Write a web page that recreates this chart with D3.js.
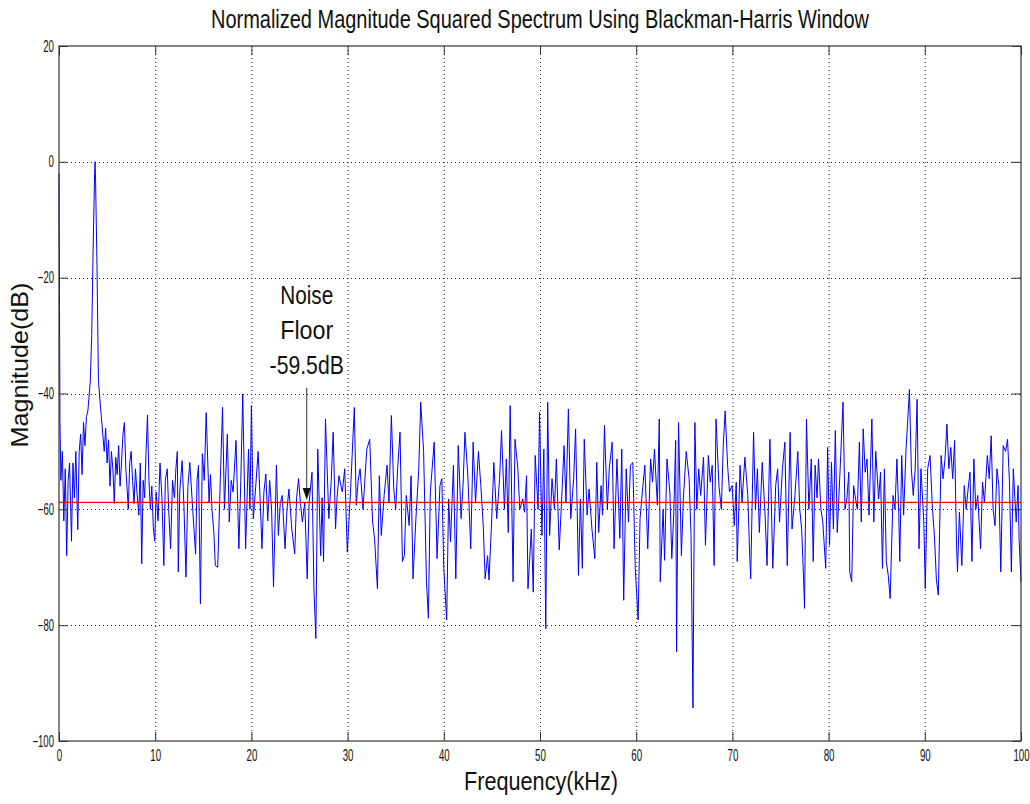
<!DOCTYPE html>
<html>
<head>
<meta charset="utf-8">
<script src="https://cdn.jsdelivr.net/npm/d3@7"></script>
<style>
  body { margin: 0; background: #fff; }
  text { font-family: "Liberation Sans", Arial, sans-serif; fill: #111; }
</style>
</head>
<body>
<div class="chart"></div>
<script>
var svgWidth = 1030;
var svgHeight = 804;

var margin = { top: 46, right: 9, bottom: 63, left: 59 };
var width = svgWidth - margin.left - margin.right;
var height = svgHeight - margin.top - margin.bottom;

// spectrum (kHz, dB)
var freqKHz = [
  0, 0.1, 0.2, 0.35, 0.5, 0.65, 0.8, 0.95, 1.1, 1.3, 1.45, 1.6, 1.75, 1.95, 2.1, 2.25, 2.4, 2.55, 2.7, 2.85,
  3.0, 3.1, 3.25, 3.4, 3.55, 3.7, 3.75, 3.8, 3.95, 4.1, 4.25, 4.4, 4.55, 4.7, 4.85, 5.0, 5.15, 5.3, 5.45, 5.6,
  5.75, 5.9, 6.05, 6.2, 6.35, 6.5, 6.65, 6.8, 6.95, 7.1, 7.2, 7.35, 7.5, 7.65, 7.8, 7.95, 8.1, 8.3, 8.45, 8.6,
  8.75, 8.9, 9.05, 9.2, 9.35, 9.5, 9.65, 9.8, 9.95, 10.1, 10.3, 10.5, 10.7, 10.9, 11.05, 11.25, 11.4, 11.6, 11.8, 12.0,
  12.15, 12.3, 12.4, 12.55, 12.8, 13.0, 13.2, 13.4, 13.6, 13.9, 14.2, 14.35, 14.5, 14.7, 14.9, 15.1, 15.3, 15.6, 15.75, 15.9,
  16.1, 16.25, 16.5, 16.8, 17.0, 17.2, 17.5, 17.7, 17.9, 18.1, 18.4, 18.7, 18.9, 19.1, 19.4, 19.7, 19.85, 20.0, 20.2, 20.45,
  20.7, 20.9, 21.1, 21.3, 21.5, 21.7, 21.9, 22.1, 22.3, 22.6, 22.8, 23.0, 23.2, 23.5, 23.7, 23.9, 24.2, 24.5, 24.7, 24.9,
  25.1, 25.3, 25.55, 25.8, 26.0, 26.3, 26.5, 26.7, 26.9, 27.2, 27.35, 27.5, 27.7, 28.05, 28.3, 28.5, 28.75, 28.9, 29.1, 29.45,
  29.7, 29.97, 30.3, 30.7, 30.9, 31.1, 31.3, 31.6, 32.0, 32.3, 32.6, 32.8, 33.1, 33.3, 33.5, 33.8, 34.1, 34.3, 34.55, 34.8,
  35.0, 35.2, 35.45, 35.7, 35.9, 36.1, 36.4, 36.6, 36.8, 37.1, 37.4, 37.6, 37.9, 38.2, 38.4, 38.6, 39.0, 39.3, 39.6, 39.8,
  40.0, 40.3, 40.5, 40.7, 41.0, 41.25, 41.5, 41.8, 42.0, 42.2, 42.5, 42.8, 43.05, 43.3, 43.6, 43.85, 44.1, 44.3, 44.55, 44.7,
  45.0, 45.2, 45.5, 45.8, 46.0, 46.3, 46.5, 46.7, 46.9, 47.2, 47.4, 47.7, 47.9, 48.2, 48.4, 48.6, 48.75, 49.1, 49.3, 49.5,
  49.8, 49.95, 50.2, 50.4, 50.6, 50.8, 51.0, 51.25, 51.5, 51.7, 52.0, 52.3, 52.5, 52.7, 52.95, 53.2, 53.5, 53.7, 54.0, 54.2,
  54.4, 54.6, 54.9, 55.1, 55.4, 55.7, 55.9, 56.1, 56.35, 56.5, 56.7, 57.0, 57.2, 57.5, 57.7, 58.0, 58.3, 58.5, 58.7, 58.96,
  59.2, 59.4, 59.65, 59.9, 60.2, 60.4, 60.7, 60.9, 61.2, 61.5, 61.7, 61.9, 62.2, 62.4, 62.5, 62.8, 62.95, 63.2, 63.5, 63.7,
  63.9, 64.1, 64.2, 64.4, 64.7, 64.9, 65.2, 65.5, 65.7, 65.9, 66.1, 66.3, 66.5, 66.7, 67.0, 67.2, 67.5, 67.7, 67.9, 68.1,
  68.3, 68.6, 68.85, 69.05, 69.25, 69.5, 69.7, 69.97, 70.2, 70.4, 70.5, 70.8, 71.0, 71.3, 71.6, 71.8, 71.9, 72.2, 72.4, 72.6,
  72.8, 73.1, 73.4, 73.6, 73.9, 74.1, 74.2, 74.5, 74.7, 74.9, 75.2, 75.45, 75.7, 76.0, 76.2, 76.5, 76.8, 77.0, 77.2, 77.4,
  77.5, 77.7, 77.95, 78.2, 78.4, 78.6, 78.8, 78.95, 79.2, 79.4, 79.7, 79.9, 80.1, 80.3, 80.5, 80.7, 80.9, 81.2, 81.5, 81.7,
  81.9, 82.1, 82.2, 82.4, 82.6, 82.8, 82.99, 83.2, 83.4, 83.6, 83.8, 84.0, 84.2, 84.5, 84.7, 84.9, 85.2, 85.4, 85.6, 85.8,
  86.0, 86.2, 86.4, 86.7, 86.9, 87.1, 87.3, 87.4, 87.6, 87.8, 88.05, 88.2, 88.4, 88.6, 88.8, 89.0, 89.2, 89.4, 89.6, 89.9,
  90.05, 90.3, 90.55, 90.8, 91.0, 91.2, 91.4, 91.7, 91.9, 92.1, 92.3, 92.5, 92.7, 92.9, 93.1, 93.3, 93.4, 93.6, 93.85, 94.1,
  94.3, 94.5, 94.7, 94.9, 95.1, 95.3, 95.5, 95.8, 96.0, 96.2, 96.5, 96.7, 96.9, 97.1, 97.3, 97.5, 97.7, 97.9, 98.15, 98.4,
  98.6, 98.8, 99.0, 99.2, 99.5, 99.7, 99.8, 100
];

var magDB = [
  -2, -45, -55, -50, -62, -53, -68, -55, -52, -65.5, -52, -58, -50, -63.5, -50, -47, -54, -45, -49, -44,
  -43, -41, -38, -30, -15, -2, 0, -3, -18, -37.8, -41, -44, -47, -50, -46, -52, -48, -56, -50, -53,
  -59, -51, -54, -49, -56, -52, -47, -45, -53, -57, -60, -52, -50, -55, -59, -53, -57, -61, -52, -69.4,
  -55, -58, -50, -43.7, -55, -60, -56, -63, -65.5, -57, -62, -52, -58, -69.7, -55, -53, -60, -66.8, -55, -58,
  -53, -50, -70.8, -57, -51.6, -60, -71.7, -56, -51.9, -60, -67.7, -55, -52.4, -76.3, -50.4, -55, -43.3, -58.8, -54, -60,
  -64, -69.7, -70, -53, -42.4, -60, -47, -62.2, -55, -57, -48.1, -66.8, -55, -40.1, -66.8, -49.6, -60, -42.1, -61.6, -56,
  -50, -58, -66.8, -57, -53.9, -62, -55, -60, -73.4, -52.4, -64.5, -59, -57.6, -66.8, -60, -56.5, -63.4, -67.7, -58, -54.7,
  -59, -62.2, -58.8, -72, -58.8, -53.6, -73.7, -82.3, -49.6, -68, -58, -69, -44.4, -61.6, -55, -46.7, -63.4, -58, -54.2, -57,
  -53, -67.4, -57, -42.4, -59.3, -55, -53, -60, -49.6, -47.9, -62.2, -65, -73.7, -54.2, -64.5, -57.6, -52.4, -58.8, -43.8, -56.5,
  -60, -53, -46.7, -69, -68, -57.6, -62.8, -54.2, -72, -61.6, -53, -41.5, -50, -72.5, -78.8, -57, -48.4, -68.5, -55.9, -54.7,
  -70.2, -79.1, -58.2, -65.6, -52.4, -72, -49, -61.6, -55.9, -46.7, -54.2, -66.8, -48.4, -58.8, -50, -55.9, -62.8, -72, -68, -72.2,
  -61, -51.9, -61.6, -54.7, -46.4, -60, -51.3, -64, -42.1, -72.5, -47.9, -53, -60, -58.2, -60.5, -54.2, -73.7, -63.4, -74.3, -50.7,
  -60, -43.3, -64.5, -49.6, -80.6, -41.5, -64.5, -54.7, -60, -51.3, -67, -56.5, -49, -58.8, -42.7, -61.6, -54.7, -46.1, -71.4, -58.2,
  -70.2, -47.9, -61, -56.5, -63.4, -68.5, -51.9, -64, -55.9, -61, -45.5, -60, -53, -48.4, -66.8, -51.3, -65, -49.6, -75.7, -53,
  -62.2, -52.4, -51.9, -70.2, -79.1, -61.6, -55.9, -52.4, -66.8, -51.3, -55.3, -49.6, -59.3, -44.4, -72.5, -60, -68.8, -51.3, -57, -68.5,
  -61, -48.1, -84.6, -45, -68, -58.2, -50, -54.7, -64.5, -94.3, -45, -60, -53, -57.6, -51, -66.2, -50.7, -55.3, -52.4, -69.7,
  -44.4, -55.9, -60, -49, -43, -52.4, -57, -55.9, -62.8, -55.3, -69, -52.4, -58.8, -51, -57.6, -68, -72, -46.7, -60, -53,
  -64, -51.9, -61, -69.7, -47.9, -62.8, -70.2, -55.9, -53, -62.2, -53, -48.4, -69.7, -46.7, -63.4, -57.6, -50, -60, -63.4, -72,
  -77.1, -44.4, -60, -51.3, -69, -52.4, -58, -51.3, -60, -62.2, -70.2, -49.3, -66.2, -51.9, -63.4, -46.4, -64, -53, -41.5, -60,
  -58.2, -53.6, -70.8, -72.5, -55.9, -58.2, -60, -48.4, -62.2, -46.1, -53.6, -51.3, -61, -44.4, -62.2, -50, -58.2, -53.6, -70.2, -53,
  -69, -71.4, -75.4, -57.6, -60, -51.3, -61, -69, -50.7, -61, -49.6, -45.5, -39.3, -53, -57.6, -53, -41, -66.8, -53, -62.2,
  -73.7, -53, -50.7, -60, -64.5, -72, -74.8, -50.7, -54.7, -51.3, -45.3, -53, -49.3, -54.7, -48.1, -66.2, -70.8, -60.5, -69.7, -55.9,
  -60, -56.5, -53.6, -69, -51.3, -60, -57.6, -66.8, -55.3, -58.8, -50.7, -54.7, -47.3, -60, -62.8, -53, -55.9, -70.8, -49, -50,
  -47.9, -55.3, -70.8, -53, -62.2, -55.9, -65, -72.5
];

var xTicks = [0, 10, 20, 30, 40, 50, 60, 70, 80, 90, 100];
var yTicks = [20, 0, -20, -40, -60, -80, -100];
var noiseFloor = -58.8;
var noiseLabel = ["Noise", "Floor", "-59.5dB"];
var arrowAt = { khz: 25.75, top: -39, tip: -58.4 };

var data = freqKHz.map(function(f, i) { return { f: f, db: magDB[i] }; });

var svg = d3.select(".chart")
  .append("svg")
  .attr("width", svgWidth)
  .attr("height", svgHeight)
  .style("display", "block");

svg.append("rect").attr("width", svgWidth).attr("height", svgHeight).attr("fill", "#fff");

var chart = svg.append("g")
  .attr("transform", "translate(" + margin.left + "," + margin.top + ")");

var xScale = d3.scaleLinear().domain([0, 100]).range([0, width]);
var yScale = d3.scaleLinear().domain([-100, 20]).range([height, 0]);

// narrow look: squeeze each text to a width
function squeeze(sel, perChar) {
  sel.each(function() {
    var t = d3.select(this);
    var s = t.text();
    if (s.length) t.attr("textLength", s.length * perChar).attr("lengthAdjust", "spacingAndGlyphs");
  });
}

// dotted grid
chart.append("g")
  .selectAll("line")
  .data(xTicks.slice(1, -1))
  .enter()
  .append("line")
  .attr("x1", function(d) { return xScale(d) + 0.5; })
  .attr("x2", function(d) { return xScale(d) + 0.5; })
  .attr("y1", 0)
  .attr("y2", height)
  .attr("stroke", "#222")
  .attr("stroke-dasharray", "1,3");

chart.append("g")
  .selectAll("line")
  .data(yTicks.slice(1, -1))
  .enter()
  .append("line")
  .attr("y1", function(d) { return Math.round(yScale(d)) + 0.5; })
  .attr("y2", function(d) { return Math.round(yScale(d)) + 0.5; })
  .attr("x1", 0)
  .attr("x2", width)
  .attr("stroke", "#222")
  .attr("stroke-dasharray", "1,3");

// spectrum line
var line = d3.line()
  .x(function(d) { return xScale(d.f); })
  .y(function(d) { return yScale(d.db); });

chart.append("path")
  .datum(data)
  .attr("d", line)
  .attr("fill", "none")
  .attr("stroke", "#0000ff")
  .attr("stroke-width", 1);

// noise floor
chart.append("line")
  .attr("x1", xScale(0))
  .attr("x2", xScale(100))
  .attr("y1", yScale(noiseFloor))
  .attr("y2", yScale(noiseFloor))
  .attr("stroke", "#ff0000")
  .attr("stroke-width", 1.2);

// axes: ticks inward on all four sides, MATLAB box
var tickLen = 9;
chart.append("g")
  .attr("transform", "translate(0," + height + ")")
  .call(d3.axisBottom(xScale).tickValues(xTicks).tickSize(-tickLen).tickPadding(9).tickFormat(d3.format("d")))
  .call(function(g) { g.select(".domain").remove(); });
chart.append("g")
  .call(d3.axisTop(xScale).tickValues(xTicks).tickSize(-tickLen).tickFormat(""))
  .call(function(g) { g.select(".domain").remove(); });
chart.append("g")
  .call(d3.axisLeft(yScale).tickValues(yTicks).tickSize(-tickLen).tickPadding(5).tickFormat(d3.format("d")))
  .call(function(g) { g.select(".domain").remove(); });
chart.append("g")
  .attr("transform", "translate(" + width + ",0)")
  .call(d3.axisRight(yScale).tickValues(yTicks).tickSize(-tickLen).tickFormat(""))
  .call(function(g) { g.select(".domain").remove(); });

chart.selectAll(".tick line").attr("stroke", "#333");
chart.selectAll(".tick text")
  .attr("font-family", "Liberation Sans, Arial, sans-serif")
  .attr("font-size", 16)
  .attr("fill", "#333")
  .call(squeeze, 5.4);

chart.append("rect")
  .attr("x", 0)
  .attr("y", 0)
  .attr("width", width)
  .attr("height", height)
  .attr("fill", "none")
  .attr("stroke", "#333")
  .attr("stroke-width", 1.2);

// annotation
var ax = xScale(arrowAt.khz);
chart.append("line")
  .attr("x1", ax)
  .attr("x2", ax)
  .attr("y1", yScale(arrowAt.top))
  .attr("y2", yScale(arrowAt.tip) - 8)
  .attr("stroke", "#333")
  .attr("stroke-width", 1);
chart.append("path")
  .attr("d", "M" + (ax - 4) + "," + (yScale(arrowAt.tip) - 12) +
             "L" + (ax + 4) + "," + (yScale(arrowAt.tip) - 12) +
             "L" + ax + "," + yScale(arrowAt.tip) + "Z")
  .attr("fill", "#111");

chart.selectAll(".note")
  .data(noiseLabel)
  .enter()
  .append("text")
  .attr("class", "note")
  .attr("x", ax)
  .attr("y", function(d, i) { return 258 + i * 35; })
  .attr("text-anchor", "middle")
  .attr("font-size", 26)
  .text(function(d) { return d; })
  .call(squeeze, 10.6);

// titles
svg.append("text")
  .attr("x", 540)
  .attr("y", 28)
  .attr("text-anchor", "middle")
  .attr("font-size", 25)
  .attr("textLength", 658)
  .attr("lengthAdjust", "spacingAndGlyphs")
  .text("Normalized Magnitude Squared Spectrum Using Blackman-Harris Window");

svg.append("text")
  .attr("x", 541)
  .attr("y", 790)
  .attr("text-anchor", "middle")
  .attr("font-size", 26)
  .attr("textLength", 154)
  .attr("lengthAdjust", "spacingAndGlyphs")
  .text("Frequency(kHz)");

svg.append("text")
  .attr("transform", "translate(28,365) rotate(-90)")
  .attr("text-anchor", "middle")
  .attr("font-size", 24)
  .attr("textLength", 165)
  .attr("lengthAdjust", "spacingAndGlyphs")
  .text("Magnitude(dB)");
</script>
</body>
</html>
